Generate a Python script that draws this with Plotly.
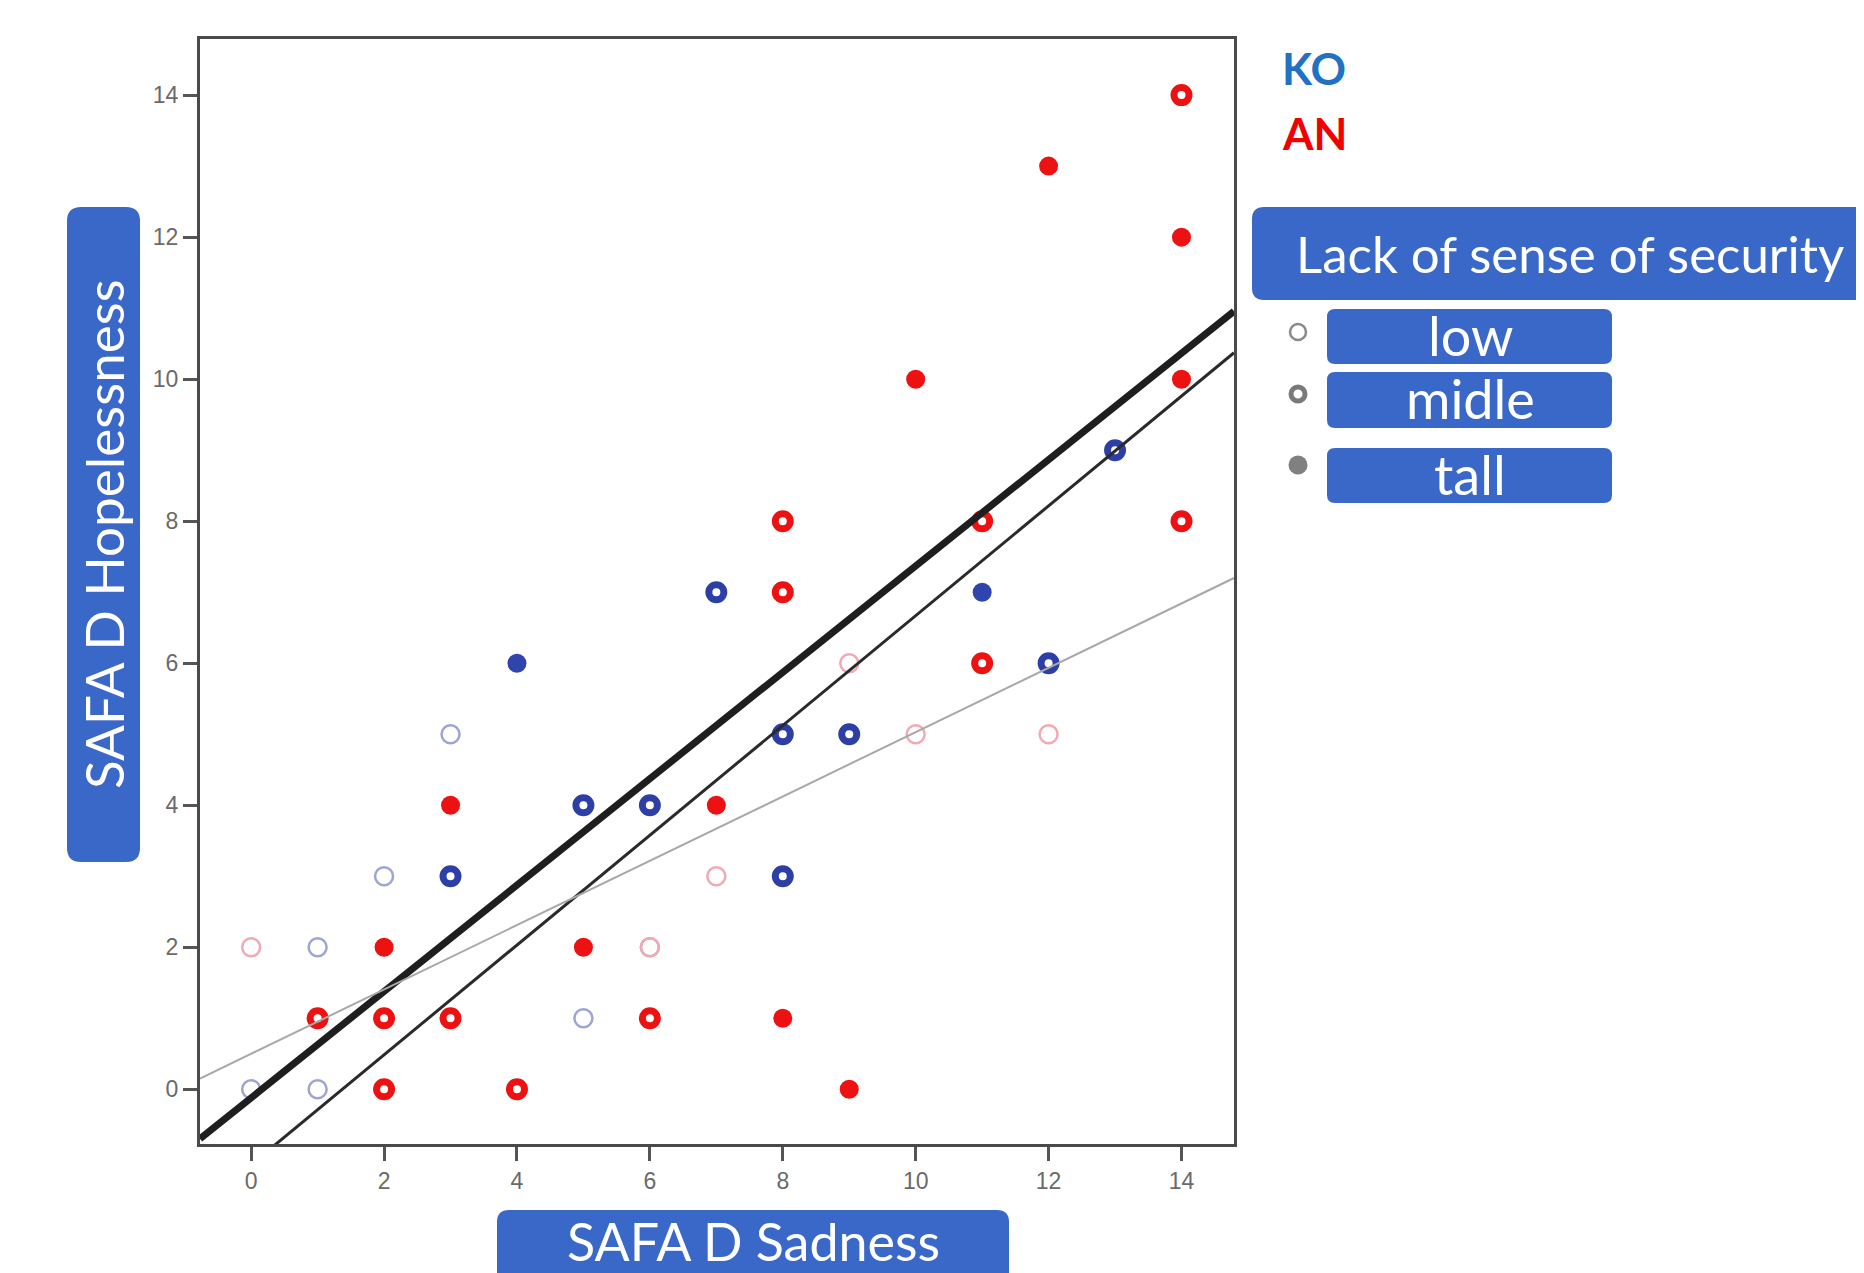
import plotly.graph_objects as go

# ---------------- data ----------------
tick_values = [0, 2, 4, 6, 8, 10, 12, 14]
tick_labels = ["0", "2", "4", "6", "8", "10", "12", "14"]

# KO group (blue)
ko_low_x = [0, 1, 1, 2, 3, 5, 6]
ko_low_y = [0, 0, 2, 3, 5, 1, 2]
ko_mid_x = [3, 5, 6, 7, 8, 8, 9, 12, 13]
ko_mid_y = [3, 4, 4, 7, 5, 3, 5, 6, 9]
ko_tall_x = [4, 11]
ko_tall_y = [6, 7]

# AN group (red)
an_low_x = [0, 6, 7, 9, 10, 12]
an_low_y = [2, 2, 3, 6, 5, 5]
an_mid_x = [1, 2, 2, 3, 4, 6, 8, 8, 11, 11, 14, 14]
an_mid_y = [1, 1, 0, 1, 0, 1, 8, 7, 6, 8, 14, 8]
an_tall_x = [2, 3, 5, 7, 8, 9, 10, 12, 14, 14]
an_tall_y = [2, 4, 2, 4, 1, 0, 10, 13, 12, 10]

# fit lines (intercept, slope)
fit_names = ["fit thick", "fit medium", "fit thin"]
fit_intercepts = [-0.12, -1.06, 0.50]
fit_slopes = [0.749, 0.773, 0.453]

legend_labels = ["low", "midle", "tall"]
axis_range = [-0.77, 14.79]

# ---------------- figure ----------------
W, H = 1864, 1273          # window size
OFF = 8                    # default page margin of the html body
L, R, T, B = 200, 1234, 39, 1144   # plot area in window pixels


def pxx(x):
    return (x - L) / (R - L)


def pxy(y):
    return (B - y) / (B - T)


def rrect(x0, y0, x1, y1, r):
    return (f"M {pxx(x0 + r)},{pxy(y0)} L {pxx(x1 - r)},{pxy(y0)} "
            f"Q {pxx(x1)},{pxy(y0)} {pxx(x1)},{pxy(y0 + r)} "
            f"L {pxx(x1)},{pxy(y1 - r)} Q {pxx(x1)},{pxy(y1)} {pxx(x1 - r)},{pxy(y1)} "
            f"L {pxx(x0 + r)},{pxy(y1)} Q {pxx(x0)},{pxy(y1)} {pxx(x0)},{pxy(y1 - r)} "
            f"L {pxx(x0)},{pxy(y0 + r)} Q {pxx(x0)},{pxy(y0)} {pxx(x0 + r)},{pxy(y0)} Z")


BOX = "#3a68c9"
KO_MID = "#2d3fa6"
KO_LOW = "#9ea5d4"
KO_TALL = "#2f45ad"
AN_RED = "#ee1111"
AN_LOW = "#f2a9b3"

fig = go.Figure()


def add_pts(x, y, color, kind, name):
    if kind == "low":
        marker = dict(symbol="circle-open", size=18, color=color, line=dict(width=2.5, color=color))
    elif kind == "mid":
        marker = dict(symbol="circle-open", size=15, color=color, line=dict(width=7, color=color))
    else:
        marker = dict(symbol="circle", size=19, color=color, line=dict(width=0))
    fig.add_trace(go.Scatter(x=x, y=y, mode="markers", marker=marker, name=name,
                             showlegend=False, hoverinfo="x+y"))


add_pts(ko_low_x, ko_low_y, KO_LOW, "low", "KO low")
add_pts(an_low_x, an_low_y, AN_LOW, "low", "AN low")
add_pts(ko_mid_x, ko_mid_y, KO_MID, "mid", "KO midle")
add_pts(an_mid_x, an_mid_y, AN_RED, "mid", "AN midle")
add_pts(ko_tall_x, ko_tall_y, KO_TALL, "tall", "KO tall")
add_pts(an_tall_x, an_tall_y, AN_RED, "tall", "AN tall")

line_styles = [dict(color="#1e1e1e", width=7), dict(color="#2a2a2a", width=3),
               dict(color="#a8a8a8", width=2)]
for name, a, b, st in zip(fit_names, fit_intercepts, fit_slopes, line_styles):
    xs = [axis_range[0], axis_range[1]]
    ys = [a + b * v for v in xs]
    fig.add_trace(go.Scatter(x=xs, y=ys, mode="lines", line=st, name=name,
                             showlegend=False, hoverinfo="skip"))

axis_common = dict(range=axis_range, showline=True, mirror=True, linecolor="#4a4a4a",
                   linewidth=3, ticks="outside", ticklen=14, tickwidth=3, tickcolor="#555555",
                   tickvals=tick_values, ticktext=tick_labels,
                   tickfont=dict(family="Liberation Sans", size=23, color="#6a6a6a"),
                   showgrid=False, zeroline=False)

shapes = []
# axis title boxes
shapes.append(dict(type="path", xref="paper", yref="paper", path=rrect(67, 207, 140, 862, 14),
                   fillcolor=BOX, line=dict(width=0)))
shapes.append(dict(type="path", xref="paper", yref="paper", path=rrect(497, 1210, 1009, 1300, 12),
                   fillcolor=BOX, line=dict(width=0)))
# legend title box
shapes.append(dict(type="path", xref="paper", yref="paper", path=rrect(1252, 207, 1920, 300, 12),
                   fillcolor=BOX, line=dict(width=0)))
legend_boxes = [(309, 364), (372, 428), (448, 503)]
legend_marker_y = [332, 394, 465]
for (y0, y1) in legend_boxes:
    shapes.append(dict(type="path", xref="paper", yref="paper", path=rrect(1327, y0, 1612, y1, 8),
                       fillcolor=BOX, line=dict(width=0)))
# legend markers (grey)
for i, yc in enumerate(legend_marker_y):
    if i == 0:
        r, st, fill = 8, dict(color="#8a8a8a", width=2.5), "rgba(0,0,0,0)"
    elif i == 1:
        r, st, fill = 7, dict(color="#7a7a7a", width=5), "rgba(0,0,0,0)"
    else:
        r, st, fill = 9.5, dict(width=0), "#808080"
    shapes.append(dict(type="circle", xref="paper", yref="paper",
                       x0=pxx(1298 - r), x1=pxx(1298 + r), y0=pxy(yc + r), y1=pxy(yc - r),
                       line=st, fillcolor=fill))

ann = []
ann.append(dict(text="SAFA D Hopelessness", x=pxx(103), y=pxy(534), xref="paper", yref="paper",
                textangle=-90, showarrow=False, xanchor="center", yanchor="middle",
                font=dict(family="Lato", size=53, color="white")))
ann.append(dict(text="SAFA D Sadness", x=pxx(753), y=pxy(1274), xref="paper", yref="paper",
                showarrow=False, xanchor="center", yanchor="bottom",
                font=dict(family="Lato", size=52, color="white")))
ann.append(dict(text="Lack of sense of security", x=pxx(1294), y=pxy(254), xref="paper", yref="paper",
                showarrow=False, xanchor="left", yanchor="middle",
                font=dict(family="Lato", size=51, color="white")))
for lab, (y0, y1) in zip(legend_labels, legend_boxes):
    ann.append(dict(text=lab, x=pxx(1470), y=pxy((y0 + y1) / 2 - 1), xref="paper", yref="paper",
                    showarrow=False, xanchor="center", yanchor="middle",
                    font=dict(family="Lato", size=54, color="white")))
ann.append(dict(text="<b>KO</b>", x=pxx(1280), y=pxy(68), xref="paper", yref="paper",
                showarrow=False, xanchor="left", yanchor="middle",
                font=dict(family="Lato", size=44, color="#2272c3")))
ann.append(dict(text="<b>AN</b>", x=pxx(1280), y=pxy(133), xref="paper", yref="paper",
                showarrow=False, xanchor="left", yanchor="middle",
                font=dict(family="Lato", size=44, color="#f00000")))

fig.update_layout(width=W - OFF, height=H - OFF,
                  margin=dict(l=L - OFF, r=W - R, t=T - OFF, b=H - B, pad=0),
                  plot_bgcolor="white", paper_bgcolor="white",
                  xaxis=axis_common, yaxis=axis_common,
                  shapes=shapes, annotations=ann, showlegend=False)

fig.write_html("out.html")
